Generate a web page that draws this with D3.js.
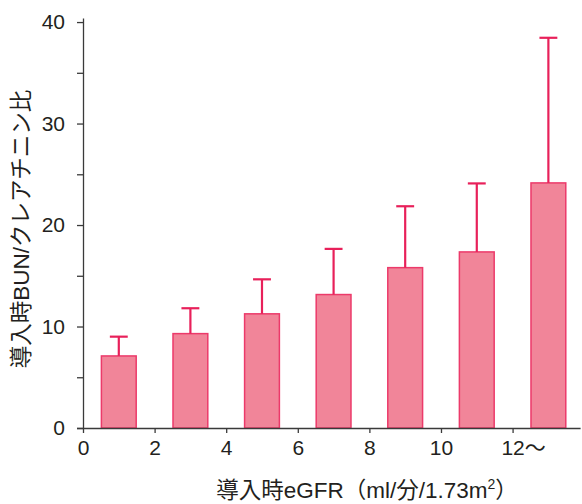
<!DOCTYPE html>
<html><head><meta charset="utf-8">
<script src="https://cdn.jsdelivr.net/npm/d3@7/dist/d3.min.js"></script>
<style>
body{margin:0;background:#fff;}
text{font-family:"Liberation Sans",Arial,sans-serif;fill:#231f20;}
.cjk{font-family:"Liberation Sans","Noto Sans CJK JP",sans-serif;}
</style></head>
<body><svg id="c" width="582" height="504"></svg>
<script>
const xCenters = [1, 3, 5, 7, 9, 11, 13];
const means = [7.1, 9.3, 11.25, 13.15, 15.8, 17.35, 24.15];
const upper = [9.0, 11.8, 14.65, 17.65, 21.85, 24.1, 38.45];
const xTicks = [0, 2, 4, 6, 8, 10, 12];
const xTickLabels = ["0", "2", "4", "6", "8", "10", "12"];
const yTicks = [0, 5, 10, 15, 20, 25, 30, 35, 40];
const yLabel = "導入時BUN/クレアチニン比";

const svg = d3.select("#c");
const x = d3.scaleLinear().domain([0, 13.9]).range([83, 580.6]);
const y = d3.scaleLinear().domain([0, 40.4]).range([428, 18]);
const axisColor = "#3a3a3a";

// bars
svg.append("g").selectAll("rect").data(xCenters).join("rect")
  .attr("x", (d) => x(d - 0.5) + 0.5)
  .attr("width", x(1) - x(0) - 1)
  .attr("y", (d, i) => y(means[i]))
  .attr("height", (d, i) => y(0) - y(means[i]))
  .attr("fill", "#f18599")
  .attr("stroke", "#ec3a6a")
  .attr("stroke-width", 1.5);

// error bars
const eg = svg.append("g").attr("stroke", "#e8205a").attr("stroke-width", 2.2);
eg.selectAll("line.v").data(xCenters).join("line").attr("class", "v")
  .attr("x1", (d) => x(d)).attr("x2", (d) => x(d))
  .attr("y1", (d, i) => y(means[i])).attr("y2", (d, i) => y(upper[i]));
eg.selectAll("line.h").data(xCenters).join("line").attr("class", "h")
  .attr("x1", (d) => x(d - 0.25)).attr("x2", (d) => x(d + 0.25))
  .attr("y1", (d, i) => y(upper[i])).attr("y2", (d, i) => y(upper[i]));

// y axis
const yAxis = d3.axisLeft(y).tickValues(yTicks).tickSize(6).tickSizeOuter(0)
  .tickFormat((d) => d % 10 === 0 ? String(d) : "");
const yg = svg.append("g").attr("transform", "translate(83,0)").call(yAxis);
yg.select(".domain").attr("stroke", axisColor).attr("stroke-width", 1.3);
yg.selectAll(".tick line").attr("stroke", axisColor).attr("stroke-width", 1.3);
yg.selectAll(".tick text").attr("x", -18).attr("font-size", 21)
  .attr("font-family", "Liberation Sans, Arial, sans-serif").attr("fill", "#231f20");

// x axis
const xAxis = d3.axisBottom(x).tickValues(xTicks).tickSize(5).tickSizeOuter(0)
  .tickFormat((d, i) => xTickLabels[i]);
const xg = svg.append("g").attr("transform", "translate(0,428)").call(xAxis);
xg.select(".domain").attr("stroke", axisColor).attr("stroke-width", 1.3)
  .attr("d", `M77,0.5H${x(13.9)}`);
xg.selectAll(".tick line").attr("stroke", axisColor).attr("stroke-width", 1.3);
xg.selectAll(".tick text").attr("y", 12).attr("font-size", 21)
  .attr("font-family", "Liberation Sans, Arial, sans-serif").attr("fill", "#231f20");
// append "～" to last tick label
const lastT = xg.selectAll(".tick text").filter((d) => d === 12);
lastT.append("tspan").attr("class", "cjk").attr("font-size", 21).text("～");
lastT.attr("text-anchor", "start").attr("x", function() {
  return -this.getSubStringLength(0, 2) / 2;
});

// axis titles
svg.append("text").attr("class", "cjk")
  .attr("transform", "translate(29,229) rotate(-90)")
  .attr("text-anchor", "middle").attr("font-size", 22.5)
  .text(yLabel);

const xt = svg.append("text").attr("class", "cjk")
  .attr("x", 367).attr("y", 498).attr("text-anchor", "middle").attr("font-size", 22.5);
xt.append("tspan").text("導入時eGFR（ml/分/1.73m");
xt.append("tspan").attr("font-size", 14).attr("dy", -9).text("2");
xt.append("tspan").attr("dy", 9).text("）");
</script></body></html>
